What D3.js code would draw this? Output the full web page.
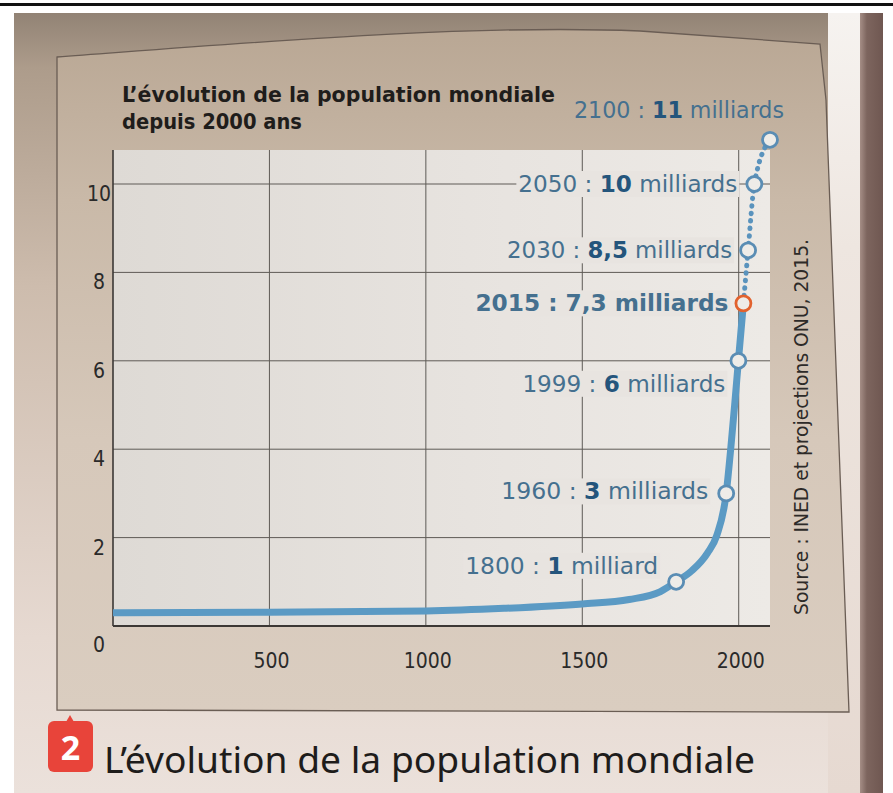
<!DOCTYPE html>
<html>
  <head>
    <meta charset="utf-8" />
    <title>L’évolution de la population mondiale</title>
    <style>
      body { margin: 0; background: #fff; }
      svg { display: block; }
      .cond { font-family: "Liberation Sans Narrow", "DejaVu Sans Condensed", "Roboto", sans-serif; }
      .grid line { stroke: #5e5a56; stroke-width: 1; }
      .tick-label { font-size: 21px; fill: #2a2a2a; }
      .pt-label { font-size: 23px; fill: #45708f; }
      .pt-label .big { font-weight: bold; fill: #24557c; }
    </style>
  </head>
  <body>
    <svg width="893" height="793"></svg>

    <script src="https://d3js.org/d3.v7.min.js"></script>
    <script>
      // Population data (billions)
      const histYears = [0, 500, 1000, 1250, 1500, 1650, 1750, 1800, 1850, 1900, 1930, 1960, 1975, 1987, 1999, 2015];
      const histPop = [0.3, 0.31, 0.34, 0.4, 0.5, 0.6, 0.78, 1, 1.25, 1.65, 2.05, 3, 4.05, 5, 6, 7.3];

      // Projections (dotted part)
      const projYears = [2015, 2030, 2050, 2100];
      const projPop = [7.3, 8.5, 10, 11];

      // Labelled points
      const markYears = [1800, 1960, 1999, 2015, 2030, 2050, 2100];
      const markPop = [1, 3, 6, 7.3, 8.5, 10, 11];
      const markBold = ["1", "3", "6", "7,3", "8,5", "10", "11"];
      const markUnit = ["milliard", "milliards", "milliards", "milliards", "milliards", "milliards", "milliards"];

      const xTicks = [500, 1000, 1500, 2000];
      const yTicks = [0, 2, 4, 6, 8, 10];

      const svg = d3.select("svg");
      const defs = svg.append("defs");

      function grad(id, horizontal, stops) {
        const g = defs.append("linearGradient").attr("id", id)
          .attr("x1", 0).attr("y1", 0)
          .attr("x2", horizontal ? 1 : 0).attr("y2", horizontal ? 0 : 1);
        stops.forEach(([o, c]) => g.append("stop").attr("offset", o).attr("stop-color", c));
      }
      grad("page", false, [[0, "#928375"], [0.07, "#ad9c8b"], [0.35, "#cdbcad"], [0.8, "#e6d9d1"], [1, "#ebe1db"]]);
      grad("panel", false, [[0, "#b9a794"], [0.25, "#c9b9a8"], [0.6, "#d6c8ba"], [1, "#dacdc0"]]);
      grad("plotbg", true, [[0, "#dedad5"], [0.6, "#e8e4e0"], [1, "#edeae6"]]);
      grad("shadow", true, [[0, "#a58e86"], [0.3, "#7d655e"], [1, "#6f5751"]]);
      grad("glare", false, [[0, "#f6f3f0"], [0.3, "#eee6e0"], [1, "#e6d9d1"]]);

      // Photo background
      svg.append("rect").attr("x", 14).attr("y", 13).attr("width", 869).attr("height", 780).attr("fill", "url(#page)");
      svg.append("rect").attr("x", 828).attr("y", 13).attr("width", 32).attr("height", 780).attr("fill", "url(#glare)");
      svg.append("rect").attr("x", 860).attr("y", 13).attr("width", 23).attr("height", 780).attr("fill", "url(#shadow)");

      // Top rule of the page
      svg.append("rect").attr("x", 0).attr("y", 3).attr("width", 893).attr("height", 3).attr("fill", "#111");

      // Panel frame
      svg.append("path")
        .attr("d", "M57,57 C260,42 470,24 640,31 L820,44 L826,100 L849,712 L57,710 Z")
        .attr("fill", "url(#panel)")
        .attr("stroke", "#6a5d54")
        .attr("stroke-width", 1.3);

      // Scales
      const x = d3.scaleLinear().domain([0, 2100]).range([113, 770]);
      const y = d3.scaleLinear().domain([0, 10]).range([626, 184]);
      const plotTop = 150;

      // Plot background
      svg.append("rect")
        .attr("x", x(0)).attr("y", plotTop)
        .attr("width", x(2100) - x(0)).attr("height", y(0) - plotTop)
        .attr("fill", "url(#plotbg)");

      // Grid
      const grid = svg.append("g").attr("class", "grid");
      grid.selectAll(".hg").data(yTicks.filter(d => d > 0)).join("line")
        .attr("x1", x(0)).attr("x2", x(2100))
        .attr("y1", d => y(d)).attr("y2", d => y(d));
      grid.selectAll(".vg").data(xTicks).join("line")
        .attr("x1", d => x(d)).attr("x2", d => x(d))
        .attr("y1", plotTop).attr("y2", y(0));

      // Axes lines
      svg.append("line").attr("x1", x(0)).attr("x2", x(0)).attr("y1", plotTop).attr("y2", y(0))
        .attr("stroke", "#3c3835").attr("stroke-width", 1.6);
      svg.append("line").attr("x1", x(0)).attr("x2", x(2100)).attr("y1", y(0)).attr("y2", y(0))
        .attr("stroke", "#3c3835").attr("stroke-width", 1.8);

      // Tick labels
      svg.selectAll(".ylab").data(yTicks).join("text")
        .attr("class", "tick-label cond")
        .attr("x", 99).attr("y", d => y(d) + (d === 0 ? 26 : 17))
        .attr("text-anchor", "middle")
        .text(d => d);
      svg.selectAll(".xlab").data(xTicks).join("text")
        .attr("class", "tick-label cond")
        .attr("x", d => x(d) + 2).attr("y", 668)
        .attr("text-anchor", "middle")
        .text(d => d);

      // Title
      svg.append("text").attr("class", "cond")
        .attr("x", 122).attr("y", 102)
        .attr("font-size", 22).attr("font-weight", "bold").attr("fill", "#1f1d1b")
        .attr("textLength", 433).attr("lengthAdjust", "spacingAndGlyphs")
        .text("L’évolution de la population mondiale");
      svg.append("text").attr("class", "cond")
        .attr("x", 122).attr("y", 129)
        .attr("font-size", 22).attr("font-weight", "bold").attr("fill", "#1f1d1b")
        .attr("textLength", 180).attr("lengthAdjust", "spacingAndGlyphs")
        .text("depuis 2000 ans");

      // Point labels (with knock-out background)
      const labelPos = [
        { dx: -18, dy: -16, w: 193 },
        { dx: -18, dy: -2, w: 207 },
        { dx: -13, dy: 23, w: 203 },
        { dx: -15, dy: 0, w: 253 },
        { dx: -16, dy: 0, w: 225 },
        { dx: -17, dy: 0, w: 219 },
        { dx: 14, dy: -30, w: 210 }
      ];
      const marks = markYears.map((yr, i) => ({
        yr, v: markPop[i], bold: markBold[i], unit: markUnit[i], pos: labelPos[i], hot: yr === 2015
      }));

      const lab = svg.append("g");
      marks.forEach(m => {
        const cx = x(m.yr), cy = y(m.v);
        const endX = cx + m.pos.dx, midY = cy + m.pos.dy;
        if (m.yr !== 2100) {
          lab.append("rect")
            .attr("x", endX - m.pos.w - 2).attr("y", midY - 13)
            .attr("width", m.pos.w + 4).attr("height", 26)
            .attr("fill", "#e8e4e0");
        }
        const t = lab.append("text").attr("class", "pt-label cond")
          .attr("x", endX).attr("y", midY + 8)
          .attr("text-anchor", "end")
          .attr("textLength", m.pos.w).attr("lengthAdjust", "spacingAndGlyphs");
        if (m.hot) {
          t.attr("fill", "#e05a2a").attr("font-weight", "bold")
            .text(`${m.yr} : ${m.bold} ${m.unit}`);
        } else {
          t.append("tspan").text(`${m.yr} : `);
          t.append("tspan").attr("class", "big").text(m.bold);
          t.append("tspan").text(` ${m.unit}`);
        }
      });

      // Curves
      const line = d3.line().x(d => x(d[0])).y(d => y(d[1])).curve(d3.curveMonotoneX);
      svg.append("path")
        .datum(projYears.map((d, i) => [d, projPop[i]]))
        .attr("d", line)
        .attr("fill", "none")
        .attr("stroke", "#5a93bd")
        .attr("stroke-width", 5)
        .attr("stroke-linecap", "round")
        .attr("stroke-dasharray", "0.5,7");
      svg.append("path")
        .datum(histYears.map((d, i) => [d, histPop[i]]))
        .attr("d", line)
        .attr("fill", "none")
        .attr("stroke", "#5b9ac4")
        .attr("stroke-width", 7)
        .attr("stroke-linejoin", "round");

      // Markers
      svg.selectAll(".mk").data(marks).join("circle")
        .attr("cx", d => x(d.yr)).attr("cy", d => y(d.v))
        .attr("r", 7.5)
        .attr("fill", "#eeece8")
        .attr("stroke", d => d.hot ? "#e2622e" : "#5a8db4")
        .attr("stroke-width", 2.8);

      // Source (vertical)
      svg.append("text").attr("class", "cond")
        .attr("transform", "translate(808,615) rotate(-90)")
        .attr("font-size", 20).attr("fill", "#2d2a28")
        .attr("textLength", 376).attr("lengthAdjust", "spacingAndGlyphs")
        .text("Source : INED et projections ONU, 2015.");

      // Caption
      svg.append("path")
        .attr("d", "M66,722 L70,715 L74,722 Z")
        .attr("fill", "#e8443a");
      svg.append("rect")
        .attr("x", 48).attr("y", 721).attr("width", 45).attr("height", 51).attr("rx", 6)
        .attr("fill", "#e8443a");
      svg.append("text")
        .attr("x", 70.5).attr("y", 760)
        .attr("text-anchor", "middle")
        .attr("font-family", "'Open Sans', 'Noto Sans', sans-serif")
        .attr("font-weight", "bold").attr("font-size", 34).attr("fill", "#fff")
        .text("2");
      svg.append("text")
        .attr("x", 104).attr("y", 773)
        .attr("font-family", "'Noto Sans', 'Open Sans', sans-serif")
        .attr("font-size", 36).attr("fill", "#1e1c1b")
        .attr("textLength", 651).attr("lengthAdjust", "spacingAndGlyphs")
        .text("L’évolution de la population mondiale");
    </script>
  </body>
</html>
